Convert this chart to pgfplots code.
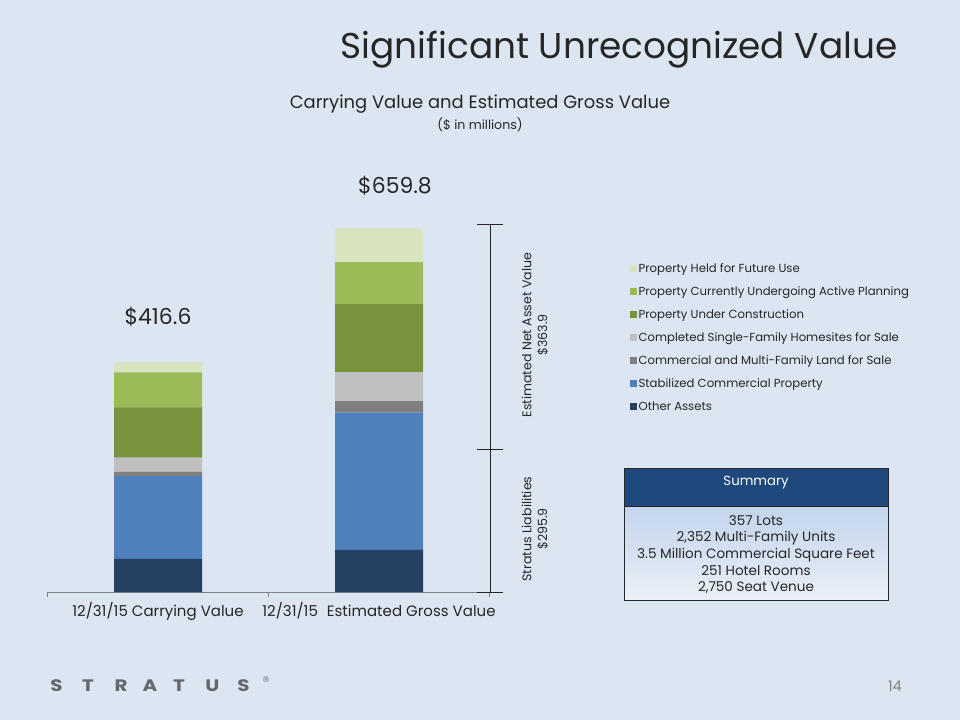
\documentclass[border=0pt]{standalone}
\usepackage{pgfplots}
\pgfplotsset{compat=1.18}
\usepackage{fontspec}
\setmainfont{Poppins}
\newfontfamily\djv{DejaVu Sans}
\definecolor{bg}{RGB}{220,230,242}
\definecolor{cOther}{RGB}{38,64,97}
\definecolor{cStab}{RGB}{79,129,189}
\definecolor{cLand}{RGB}{127,127,127}
\definecolor{cHome}{RGB}{191,191,191}
\definecolor{cConst}{RGB}{119,147,60}
\definecolor{cPlan}{RGB}{155,187,89}
\definecolor{cFut}{RGB}{215,228,189}
\definecolor{hdr}{RGB}{31,73,125}
\definecolor{txt}{RGB}{38,38,38}
\definecolor{logo}{RGB}{100,104,110}
\begin{document}
\begin{tikzpicture}[x=0.75bp,y=0.75bp]
\fill[bg] (0,0) rectangle (960,720);
% titles
\node[text=txt, font=\fontsize{27}{30}\selectfont] at (619,670) {Significant Unrecognized Value};
\node[text=txt, font=\fontsize{13.5}{15}\selectfont] at (480,616) {Carrying Value and Estimated Gross Value};
\node[text=txt, font=\fontsize{9.5}{11}\selectfont] at (480,595) {(\$ in millions)};
\begin{axis}[at={(35.625bp,96bp)}, anchor=south west, scale only axis,
  width=331.5bp, height=289.4bp,
  xmin=-0.5, xmax=1.5, ymin=0, ymax=700,
  ybar stacked, bar width=66bp,
  axis y line=none, axis x line=bottom,
  axis line style={-, draw=gray},
  xtick={0,1},
  xticklabels={12/31/15 Carrying Value, {12/31/15\hspace{0.6em}Estimated Gross Value}},
  major tick length=0pt,
  extra x ticks={-0.5,0.5,1.5}, extra x tick labels={},
  extra x tick style={major tick length=4bp, xtick align=outside, tick style={gray}},
  xticklabel style={font=\fontsize{11.3}{13}\selectfont, text=txt, yshift=-4.5bp},
  clip=false,
  reverse legend, legend cell align=left,
  legend style={at={(axis description cs:1.309,0.863)}, anchor=north west,
    draw=none, fill=none, font=\fontsize{8.8}{10}\selectfont, text=txt,
    row sep=7.1bp, nodes={inner sep=1bp}},
  legend image code/.code={\fill[#1] (0bp,-2.6bp) rectangle (5.2bp,2.6bp);},
]
\addplot[fill=cOther, draw=none] coordinates {(0,59.9) (1,76.2)};
\addplot[fill=cStab, draw=none] coordinates {(0,150.5) (1,249.0)};
\addplot[fill=cLand, draw=none] coordinates {(0,7.3) (1,21.2)};
\addplot[fill=cHome, draw=none] coordinates {(0,26.0) (1,52.6)};
\addplot[fill=cConst, draw=none] coordinates {(0,91.4) (1,123.3)};
\addplot[fill=cPlan, draw=none] coordinates {(0,63.5) (1,76.2)};
\addplot[fill=cFut, draw=none] coordinates {(0,18.0) (1,61.3)};
\legend{Other Assets, Stabilized Commercial Property, Commercial and Multi-Family Land for Sale, Completed Single-Family Homesites for Sale, Property Under Construction, Property Currently Undergoing Active Planning, Property Held for Future Use}
\node[text=txt, font=\fontsize{16.5}{18}\selectfont] at (axis cs:0,416.6) [yshift=34bp] {\$416.6};
\node[text=txt, font=\fontsize{16.5}{18}\selectfont] at (axis cs:1,659.8) [yshift=32bp, xshift=12bp] {\$659.8};
\end{axis}
% bracket
\draw[black!85, line width=0.7bp] (490,128) -- (490,496);
\foreach \yy in {128,270.7,496} \draw[black!85, line width=0.7bp] (477,\yy) -- (503,\yy);
\node[rotate=90, align=center, text=txt, font=\fontsize{9.5}{12}\selectfont] at (535,385) {Estimated Net Asset Value\\\$363.9};
\node[rotate=90, align=center, text=txt, font=\fontsize{9.5}{12}\selectfont] at (535,191) {Stratus Liabilities\\\$295.9};
% summary box
\shade[top color={rgb,255:red,194;green,212;blue,236}, bottom color={rgb,255:red,234;green,240;blue,248}] (624,214) rectangle (888,120);
\fill[hdr] (624,252) rectangle (888,214);
\draw[black!85, line width=0.6bp] (624,252) rectangle (888,120);
\draw[black!85, line width=0.6bp] (624,214) -- (888,214);
\node[text=white, font=\fontsize{10}{11}\selectfont] at (756,237) {Summary};
\node[text=txt, align=center, font=\fontsize{10.2}{12.5}\selectfont] at (756,165.5) {357 Lots\\2,352 Multi-Family Units\\3.5 Million Commercial Square Feet\\251 Hotel Rooms\\2,750 Seat Venue};
% logo and page number
\foreach \xx/\ll in {56.5/S,88/T,121/R,150/A,179/T,212.5/U,243.5/S}
  \node[text=logo, font=\fontsize{12.5}{14}\bfseries\selectfont, xscale=1.2] at (\xx,34) {\ll};
\node[text=logo, font=\djv\fontsize{6}{7}\selectfont] at (266,40) {®};
\node[text=gray, font=\fontsize{11}{12}\selectfont] at (895,34) {14};
\end{tikzpicture}
\end{document}
